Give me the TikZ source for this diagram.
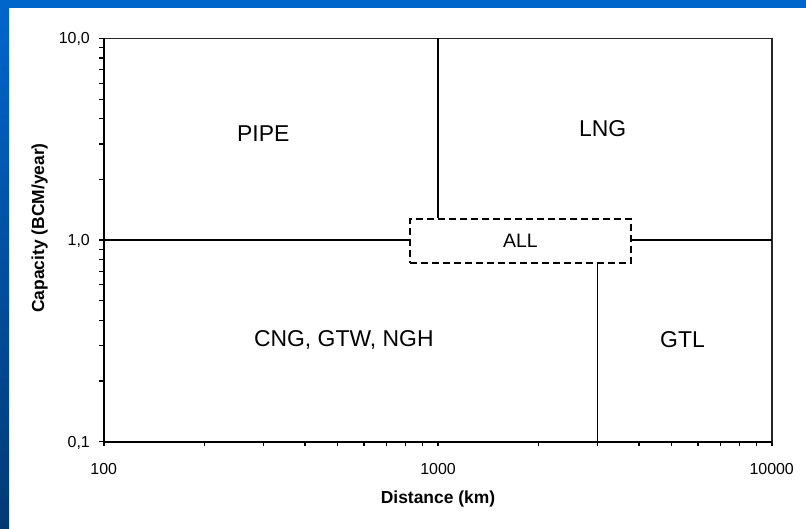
\documentclass[tikz,border=0pt]{standalone}
\usepackage{fontspec}
\setmainfont{Liberation Sans}
\definecolor{bartop}{HTML}{0066CC}
\definecolor{barbot}{HTML}{003A75}
\begin{document}
\begin{tikzpicture}[x=1bp,y=-1bp,
  region/.style={font=\fontsize{23}{23}\selectfont, inner sep=0pt, anchor=base},
  ticklab/.style={font=\fontsize{16}{16}\selectfont, inner sep=0pt},
  axlab/.style={font=\fontsize{17.5}{17.5}\selectfont\bfseries, inner sep=0pt, anchor=base},
  divider/.style={line width=1.2bp, black},
  axisline/.style={line width=2bp, black},
  frameline/.style={line width=1.4bp, black!85},
  tickmark/.style={line width=1.3bp, black},
  allbox/.style={draw, dash pattern=on 7bp off 4bp, line width=1.8bp,
    minimum width=221bp, minimum height=44bp, inner sep=0pt,
    font=\fontsize{19.5}{19.5}\selectfont}
]
\useasboundingbox (0,0) rectangle (806,529);
\fill[white] (0,0) rectangle (806,529);
\shade[top color=bartop, bottom color=barbot] (0,0) rectangle (9,529);
\fill[bartop] (0,0) rectangle (806,8);

% frame and axes
\coordinate (tl) at (104,38.5);
\coordinate (tr) at (772,38.5);
\coordinate (bl) at (104,441.5);
\coordinate (br) at (772,441.5);
\draw[frameline] (tl) -- (tr) -- (br);
\draw[axisline] (tl) -- (bl) -- (br);

% ticks
\foreach \d in {0,1}{
  \foreach \k in {2,...,9}{
    \pgfmathsetmacro\xx{104+334*(\d+log10(\k))}
    \pgfmathsetmacro\yy{441.5-201.5*(\d+log10(\k))}
    \draw[tickmark] (\xx,441.5) -- (\xx,446);
    \draw[tickmark] (99,\yy) -- (104,\yy);
  }
}
\foreach \xx in {104,438,772}{\draw[tickmark] (\xx,441.5) -- (\xx,446);}
\foreach \yy in {38.5,240,441.5}{\draw[tickmark] (99,\yy) -- (104,\yy);}

% tick labels
\node[ticklab, anchor=base east] (y10) at (90,44) {10,0};
\node[ticklab, anchor=base east] (y1) at (90,245.5) {1,0};
\node[ticklab, anchor=base east] (y01) at (90,447.7) {0,1};
\node[ticklab, anchor=base] (x100) at (103.7,474.3) {100};
\node[ticklab, anchor=base] (x1000) at (438,474.3) {1000};
\node[ticklab, anchor=base] (x10000) at (771.7,474.3) {10000};

% axis labels
\node[axlab] (xlab) at (438,503) {Distance (km)};
\node[axlab, rotate=90] (ylab) at (44,228) {Capacity (BCM/year)};

% ALL box and dividers
\node[allbox] (all) at (520.5,241) {ALL};
\coordinate (t1000) at (438,38.5);
\coordinate (l1) at (104,240);
\coordinate (r1) at (772,240);
\coordinate (b3000) at (597.3,441.5);
\draw[divider] (t1000) -- (all.north -| t1000);
\draw[divider] (l1) -- (all.west |- l1);
\draw[divider] (all.east |- r1) -- (r1);
\draw[divider] (all.south -| b3000) -- (b3000);

% region labels
\node[region] (pipe) at (263.3,141.7) {PIPE};
\node[region] (lng) at (602.7,137) {LNG};
\node[region] (cng) at (343.8,346.7) {CNG, GTW, NGH};
\node[region] (gtl) at (682.5,347.5) {GTL};
\end{tikzpicture}
\end{document}
